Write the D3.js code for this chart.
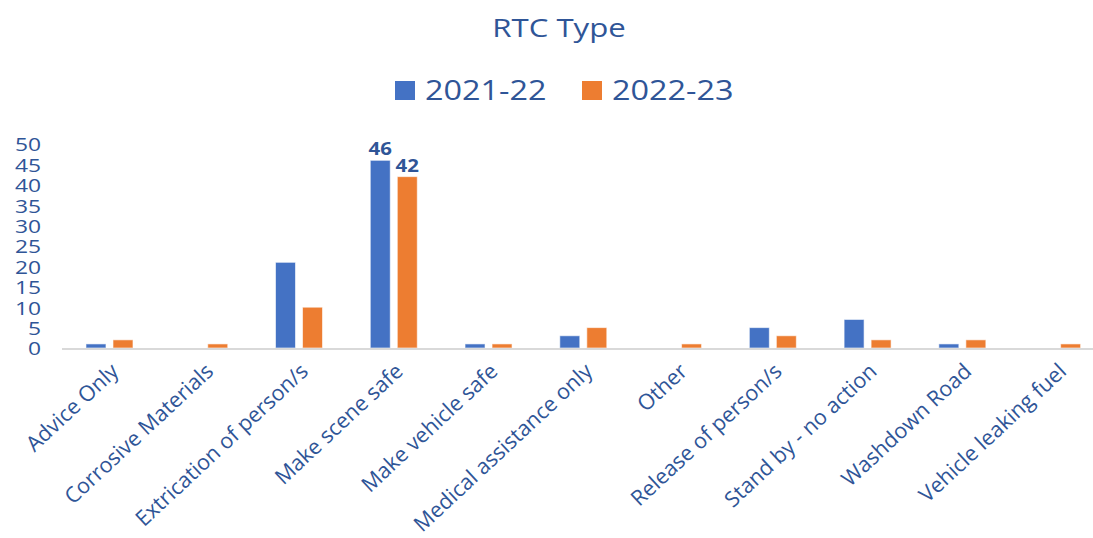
<!DOCTYPE html>
<html>
<head>
<meta charset="utf-8">
<script src="https://cdn.jsdelivr.net/npm/d3@7"></script>
<style>
    body { margin: 0; background: #fff; }
    text { font-family: "Open Sans", "Noto Sans", sans-serif; }
</style>
</head>
<body>
<div id="Graph"></div>
<script>
var categories = ["Advice Only", "Corrosive Materials", "Extrication of person/s", "Make scene safe",
    "Make vehicle safe", "Medical assistance only", "Other", "Release of person/s",
    "Stand by - no action", "Washdown Road", "Vehicle leaking fuel"];
var series = ["2021-22", "2022-23"];
var values2122 = [1, 0, 21, 46, 1, 3, 0, 5, 7, 1, 0];
var values2223 = [2, 1, 10, 42, 1, 5, 1, 3, 2, 2, 1];
var yTicks = [0, 5, 10, 15, 20, 25, 30, 35, 40, 45, 50];
var labelled = ["Make scene safe"];   // only these get value labels

var colors = {"2021-22": "#4472C4", "2022-23": "#ED7D31"};
var textColor = "#2F5597";
var stretch = 1.2; // reference text looks widened horizontally

var width = 1093, height = 538;

var svg = d3.select("#Graph").append("svg")
    .attr("width", width)
    .attr("height", height);

//scales
var x = d3.scaleBand()
    .domain(categories)
    .range([62.6, 1105]);
var y = d3.scaleLinear()
    .domain([0, 50])
    .range([348, 144]);
var xSub = d3.scaleBand()
    .domain(series)
    .range([x.bandwidth() / 2 - 24, x.bandwidth() / 2 + 23])
    .paddingInner(0.26);

var rows = categories.map(function (c, i) {
    return {cat: c, vals: [{s: series[0], v: values2122[i]}, {s: series[1], v: values2223[i]}]};
});

//title
svg.append("text")
    .attr("transform", "translate(559,37) scale(" + stretch + ",1)")
    .attr("text-anchor", "middle")
    .style("font-size", "26px")
    .style("fill", textColor)
    .text("RTC Type");

//legend
var legendX = [395, 582];
var legend = svg.selectAll(".legend")
    .data(series)
    .enter().append("g")
    .attr("class", "legend")
    .attr("transform", function (d, i) { return "translate(" + legendX[i] + ",0)"; });
legend.append("rect")
    .attr("y", 81)
    .attr("width", 20)
    .attr("height", 19)
    .style("fill", function (d) { return colors[d]; });
legend.append("text")
    .attr("transform", "translate(30,100) scale(" + stretch + ",1)")
    .style("font-size", "27px")
    .style("fill", textColor)
    .text(function (d) { return d; });

//y axis (labels only)
var yAxis = svg.append("g")
    .attr("transform", "translate(41,0)")
    .call(d3.axisLeft(y).tickValues(yTicks).tickSize(0).tickPadding(0));
yAxis.select(".domain").remove();
yAxis.selectAll("text")
    .attr("transform", "scale(" + stretch + ",1)")
    .attr("dy", "0.36em")
    .style("font-size", "19px")
    .style("font-family", "\"Open Sans\", sans-serif")
    .style("fill", textColor);

//bars
var groups = svg.selectAll(".cat")
    .data(rows)
    .enter().append("g")
    .attr("class", "cat")
    .attr("transform", function (d) { return "translate(" + x(d.cat) + ",0)"; });

groups.selectAll("rect")
    .data(function (d) { return d.vals.filter(function (e) { return e.v > 0; }); })
    .enter().append("rect")
    .attr("x", function (d) { return xSub(d.s); })
    .attr("width", xSub.bandwidth())
    .attr("y", function (d) { return y(d.v); })
    .attr("height", function (d) { return y(0) - y(d.v); })
    .style("fill", function (d) { return colors[d.s]; })
    .style("stroke", "#fff")
    .style("stroke-opacity", 0.6)
    .style("stroke-width", 1);

//value labels
groups.filter(function (d) { return labelled.indexOf(d.cat) >= 0; })
    .selectAll(".val")
    .data(function (d) { return d.vals; })
    .enter().append("text")
    .attr("class", "val")
    .attr("transform", function (d) {
        return "translate(" + (xSub(d.s) + xSub.bandwidth() / 2) + "," + (y(d.v) - 5) + ") scale(" + stretch + ",1)";
    })
    .attr("text-anchor", "middle")
    .style("font-size", "17px")
    .style("font-weight", "bold")
    .style("fill", textColor)
    .text(function (d) { return d.v; });

//x axis line
svg.append("line")
    .attr("x1", 62)
    .attr("x2", width)
    .attr("y1", y(0) + 1)
    .attr("y2", y(0) + 1)
    .style("stroke", "#D9D9D9")
    .style("stroke-width", 2);

//category labels
svg.selectAll(".xlabel")
    .data(categories)
    .enter().append("text")
    .attr("class", "xlabel")
    .attr("transform", function (d) {
        return "translate(" + (x(d) + x.bandwidth() / 2 + 10) + ",373) rotate(-43)";
    })
    .attr("text-anchor", "end")
    .style("font-size", "21.5px")
    .style("fill", textColor)
    .text(function (d) { return d; });
</script>
</body>
</html>
